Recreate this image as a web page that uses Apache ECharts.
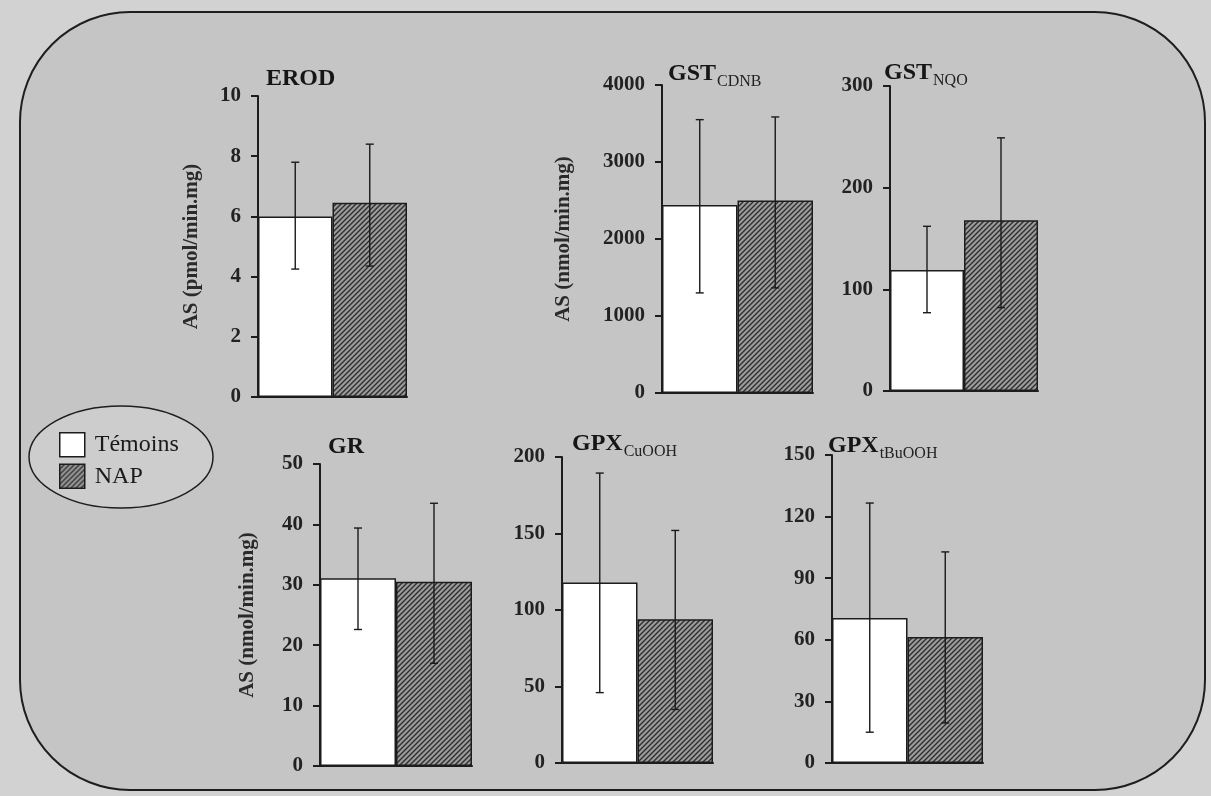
<!DOCTYPE html>
<html>
<head>
<meta charset="utf-8">
<title>Activités enzymatiques</title>
<script src="https://cdn.jsdelivr.net/npm/echarts@6/dist/echarts.min.js"></script>
<style>
  html, body { margin: 0; padding: 0; background: #d2d2d2; }
  #chart { width: 1211px; height: 796px; }
</style>
</head>
<body>
<div id="chart"></div>
<script>
// valeurs (moyenne, bas et haut des barres d'erreur)
const panelTitles = ['EROD', 'GST', 'GST', 'GR', 'GPX', 'GPX']
const panelSubs = ['', 'CDNB', 'NQO', '', 'CuOOH', 'tBuOOH']
const axisNames = ['AS (pmol/min.mg)', 'AS (nmol/min.mg)', '', 'AS (nmol/min.mg)', '', '']
const axisMax = [10, 4000, 300, 50, 200, 150]
const axisStep = [2, 1000, 100, 10, 50, 30]
const groups = ['Témoins', 'NAP']

const temoinsMean = [6.0, 2440, 119, 31.1, 118, 70.6]
const temoinsLow = [4.25, 1300, 77, 22.6, 46, 15]
const temoinsHigh = [7.8, 3550, 162, 39.4, 189.5, 126.6]

const napMean = [6.45, 2500, 168, 30.5, 94, 61.4]
const napLow = [4.35, 1365, 82, 17.0, 35, 19.5]
const napHigh = [8.4, 3585, 249, 43.5, 152, 102.8]

// placement des six panneaux (px)
const boxes = [
  { left: 258, top: 96, width: 149, height: 301, nameGap: 56, tx: 266, ty: 67 },
  { left: 662, top: 85, width: 151, height: 308, nameGap: 88, tx: 668, ty: 62 },
  { left: 890, top: 86, width: 148, height: 305, nameGap: 60, tx: 884, ty: 61 },
  { left: 320, top: 464, width: 152, height: 302, nameGap: 62, tx: 328, ty: 435 },
  { left: 562, top: 457, width: 151, height: 306, nameGap: 60, tx: 572, ty: 432 },
  { left: 832, top: 455, width: 151, height: 308, nameGap: 60, tx: 828, ty: 434 }
]

const serif = '"Liberation Serif", "DejaVu Serif", serif'
const ink = '#1c1c1c'
const titleFont = 'bold 24px ' + serif

// largeur du titre principal, pour placer l'indice juste après
const measureCtx = document.createElement('canvas').getContext('2d')
function textWidth (txt, font) {
  measureCtx.font = font
  return measureCtx.measureText(txt).width
}

// motif hachuré pour NAP
function makeHatch () {
  const s = 5
  const c = document.createElement('canvas')
  c.width = s
  c.height = s
  const ctx = c.getContext('2d')
  ctx.fillStyle = '#9c9c9c'
  ctx.fillRect(0, 0, s, s)
  ctx.strokeStyle = '#2e2e2e'
  ctx.lineWidth = 1.4
  ctx.beginPath()
  ctx.moveTo(0, s); ctx.lineTo(s, 0)
  ctx.moveTo(-1, 1); ctx.lineTo(1, -1)
  ctx.moveTo(s - 1, s + 1); ctx.lineTo(s + 1, s - 1)
  ctx.stroke()
  return c
}
const hatch = { image: makeHatch(), repeat: 'repeat' }

const grid = []
const xAxis = []
const yAxis = []
const series = []
const title = []

boxes.forEach(function (b, i) {
  grid.push({ left: b.left, top: b.top, width: b.width, height: b.height })
  xAxis.push({
    type: 'category',
    gridIndex: i,
    data: groups,
    axisLine: { show: true, lineStyle: { color: ink, width: 2 } },
    axisTick: { show: false },
    axisLabel: { show: false },
    splitLine: { show: false }
  })
  yAxis.push({
    type: 'value',
    gridIndex: i,
    min: 0,
    max: axisMax[i],
    interval: axisStep[i],
    name: axisNames[i],
    nameLocation: 'middle',
    nameRotate: 90,
    nameGap: b.nameGap,
    nameTextStyle: { fontFamily: serif, fontWeight: 'bold', fontSize: 21, color: '#2a2a2a' },
    axisLine: { show: true, lineStyle: { color: ink, width: 2 } },
    axisTick: { show: true, length: 7, lineStyle: { color: ink, width: 2 } },
    axisLabel: {
      margin: 17,
      fontFamily: serif,
      fontWeight: 'bold',
      fontSize: 21,
      color: '#222',
      formatter: function (v) { return String(v) }
    },
    splitLine: { show: false }
  })
  series.push({
    name: 'Témoins',
    type: 'bar',
    xAxisIndex: i,
    yAxisIndex: i,
    barGap: '-100%',
    barCategoryGap: '0%',
    data: [temoinsMean[i], '-'],
    itemStyle: { color: '#ffffff', borderColor: ink, borderWidth: 1.5 },
    z: 2
  })
  series.push({
    name: 'NAP',
    type: 'bar',
    xAxisIndex: i,
    yAxisIndex: i,
    barGap: '-100%',
    barCategoryGap: '0%',
    data: ['-', napMean[i]],
    itemStyle: { color: hatch, borderColor: ink, borderWidth: 1.5 },
    z: 2
  })
  series.push({
    type: 'custom',
    xAxisIndex: i,
    yAxisIndex: i,
    z: 5,
    silent: true,
    encode: { x: 0, y: [1, 2] },
    data: [[0, temoinsLow[i], temoinsHigh[i]], [1, napLow[i], napHigh[i]]],
    renderItem: function (params, api) {
      const lo = api.coord([api.value(0), api.value(1)])
      const hi = api.coord([api.value(0), api.value(2)])
      const w = 4
      const st = { stroke: '#1a1a1a', lineWidth: 1.4 }
      return {
        type: 'group',
        children: [
          { type: 'line', shape: { x1: lo[0], y1: lo[1], x2: hi[0], y2: hi[1] }, style: st },
          { type: 'line', shape: { x1: lo[0] - w, y1: lo[1], x2: lo[0] + w, y2: lo[1] }, style: st },
          { type: 'line', shape: { x1: hi[0] - w, y1: hi[1], x2: hi[0] + w, y2: hi[1] }, style: st }
        ]
      }
    }
  })
  title.push({
    text: panelTitles[i],
    left: b.tx,
    top: b.ty,
    padding: 0,
    textStyle: { fontFamily: serif, fontWeight: 'bold', fontSize: 24, color: '#161616' }
  })
  if (panelSubs[i]) {
    title.push({
      text: panelSubs[i],
      left: b.tx + textWidth(panelTitles[i], titleFont) + 1,
      top: b.ty + 12,
      padding: 0,
      textStyle: { fontFamily: serif, fontWeight: 'normal', fontSize: 16, color: '#222' }
    })
  }
})

const option = {
  animation: false,
  backgroundColor: '#d2d2d2',
  title: title,
  graphic: [
    {
      type: 'rect',
      z: -10,
      shape: { x: 20, y: 12, width: 1185, height: 778, r: 110 },
      style: { fill: '#c5c5c5', stroke: '#1e1e1e', lineWidth: 2 }
    },
    {
      type: 'ellipse',
      z: -5,
      shape: { cx: 121, cy: 457, rx: 92, ry: 51 },
      style: { fill: '#cdcdcd', stroke: '#1e1e1e', lineWidth: 1.5 }
    }
  ],
  legend: {
    orient: 'vertical',
    left: 59,
    top: 432,
    padding: 0,
    itemWidth: 25,
    itemHeight: 24,
    itemGap: 6,
    icon: 'rect',
    selectedMode: false,
    textStyle: { fontFamily: serif, fontSize: 24, color: '#1a1a1a', padding: [0, 0, 0, 5] },
    data: [
      { name: 'Témoins', itemStyle: { color: '#ffffff', borderColor: ink, borderWidth: 1.5 } },
      { name: 'NAP', itemStyle: { color: hatch, borderColor: ink, borderWidth: 1.5 } }
    ]
  },
  grid: grid,
  xAxis: xAxis,
  yAxis: yAxis,
  series: series
}

const chart = echarts.init(document.getElementById('chart'))
chart.setOption(option)
window.addEventListener('resize', function () { chart.resize() })
</script>
</body>
</html>
